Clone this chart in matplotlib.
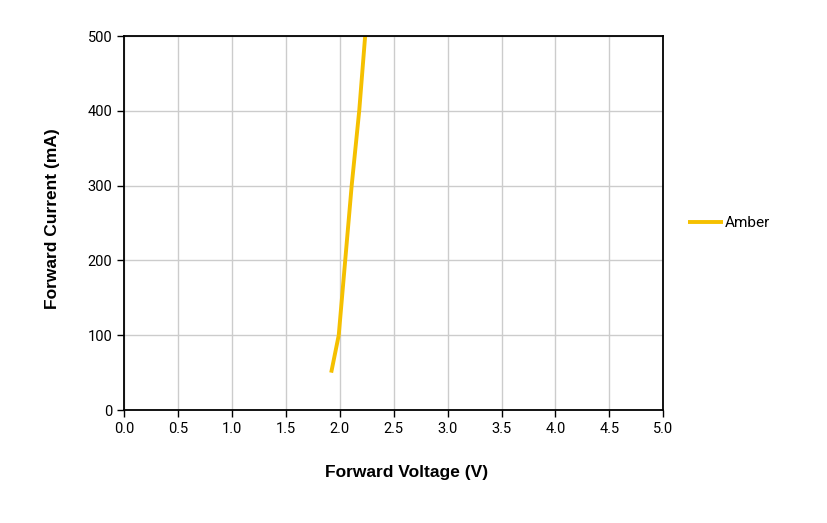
import matplotlib
matplotlib.use('Agg')
import matplotlib.pyplot as plt

# donnees
voltage = [1.92, 1.99, 2.02, 2.05, 2.11, 2.18, 2.235]
current = [50, 100, 150, 200, 300, 400, 500]

plt.rcParams['font.family'] = ['Roboto', 'DejaVu Sans']

fig = plt.figure(figsize=(8.28, 5.23), dpi=100)
ax = fig.add_axes([0.150, 0.216, 0.651, 0.715])

ax.plot(voltage, current, color='#F5C000', linewidth=2.8, label='Amber', solid_capstyle='butt')

ax.set_xlim(0, 5)
ax.set_ylim(0, 500)
ax.set_xticks([i * 0.5 for i in range(11)])
ax.set_xticklabels(['%.1f' % (i * 0.5) for i in range(11)])
ax.set_yticks(range(0, 501, 100))
ax.grid(True, color='#CCCCCC', linewidth=1)
ax.set_axisbelow(True)
for s in ax.spines.values():
    s.set_color('black')
    s.set_linewidth(1.3)
ax.tick_params(direction='out', length=5, width=1, labelsize=10.5, colors='black')

ax.set_xlabel('Forward Voltage (V)', fontsize=12.5, fontweight='bold', family='Liberation Sans')
ax.set_ylabel('Forward Current (mA)', fontsize=12.5, fontweight='bold', family='Liberation Sans')
ax.xaxis.set_label_coords(0.523, -0.168)
ax.yaxis.set_label_coords(-0.133, 0.511)
ax.xaxis.label.set_va('center')
ax.yaxis.label.set_va('center')

ax.legend(loc='center left', bbox_to_anchor=(1.02, 0.5), frameon=False,
          fontsize=11, handlelength=2.3, handletextpad=0.1)

fig.savefig('out.png', dpi=100)
